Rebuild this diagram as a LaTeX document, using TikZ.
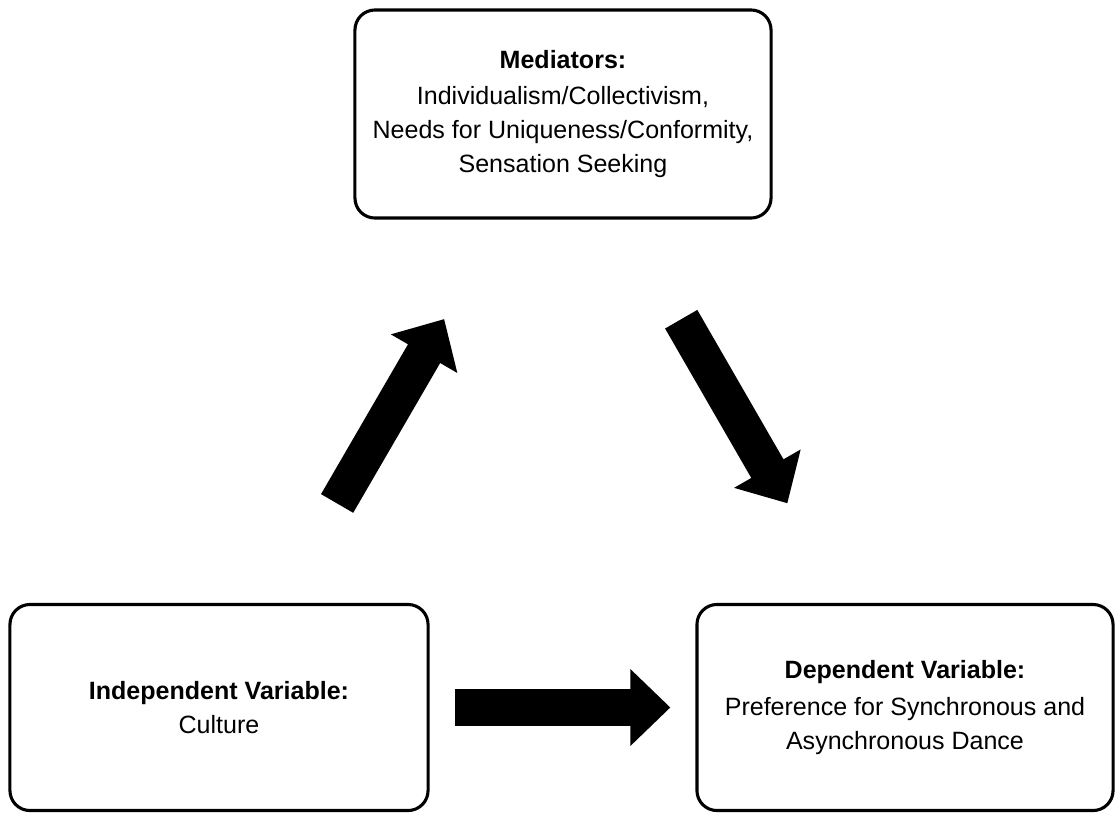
\documentclass[tikz,border=0pt]{standalone}
\usepackage{fontspec}
\setmainfont{Liberation Sans}
\usetikzlibrary{arrows.meta}
\tikzstyle{varbox} = [rectangle, rounded corners=0.5cm, minimum width=10.4cm, minimum height=5.15cm, align=center, draw=black, line width=2.2pt, font=\fontsize{17.8}{24.2}\selectfont]
\tikzstyle{bigarrow} = [line width=0.93cm, -{Triangle[length=1cm, width=1.86cm]}]

\begin{document}
\begin{tikzpicture}[x=0.025cm, y=-0.025cm]
  \useasboundingbox (0,0) rectangle (1117,812);
  \node (mediators) [varbox, minimum height=5.2cm] at (563,114) {\textbf{Mediators:}\\[2pt] Individualism/Collectivism,\\ Needs for Uniqueness/Conformity,\\ Sensation Seeking};
  \node (indep) [varbox, minimum width=10.45cm] at (219,707.5) {\textbf{Independent Variable:}\\ Culture};
  \node (dep) [varbox] at (905,707.5) {\textbf{Dependent Variable:}\\[2pt] Preference for Synchronous and\\ Asynchronous Dance};

  \draw[bigarrow, shorten <=2.875cm, shorten >=2.875cm] (indep) -- (mediators);
  \draw[bigarrow, shorten <=2.875cm, shorten >=2.875cm] (mediators) -- (dep);
  \draw[bigarrow, shorten <=0.625cm, shorten >=0.625cm] (indep.east) -- (dep.west);
\end{tikzpicture}
\end{document}
